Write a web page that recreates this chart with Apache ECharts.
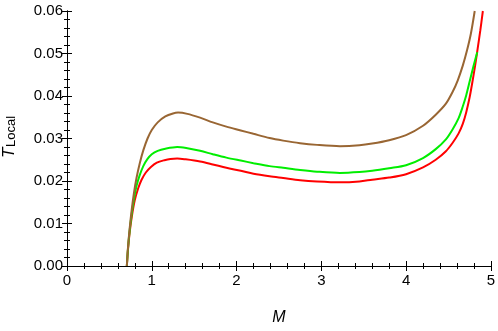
<!DOCTYPE html>
<html>
<head>
<meta charset="utf-8">
<script src="https://cdn.jsdelivr.net/npm/echarts@6/dist/echarts.min.js"></script>
<style>html,body{margin:0;padding:0;background:#fff}#c{width:498px;height:331px}</style>
</head>
<body>
<div id="c"></div>
<script>
// Data (M, T_Local)
const redM = [0.706,0.72,0.74,0.765,0.80,0.84,0.88,0.93,0.99,1.06,1.15,1.22,1.30,1.40,1.57,1.72,1.88,2.05,2.2,2.39,2.55,2.75,2.95,3.22,3.45,3.6,3.8,4.0,4.2,4.35,4.47,4.55,4.62,4.67,4.71,4.75,4.78,4.815,4.845,4.875,4.906];
const redT = [0,0.0040,0.0080,0.0117,0.0155,0.0183,0.0203,0.0220,0.0233,0.0243,0.0249,0.0252,0.0253,0.0251,0.0246,0.0239,0.0231,0.0224,0.0217,0.0211,0.0207,0.0202,0.0199,0.0197,0.0199,0.0203,0.0208,0.0216,0.0232,0.0250,0.0270,0.0290,0.0312,0.0335,0.0362,0.0397,0.0430,0.0472,0.0512,0.0553,0.0600];
const greenM = [0.706,0.72,0.74,0.765,0.79,0.82,0.855,0.90,0.95,1.00,1.07,1.16,1.30,1.42,1.57,1.72,1.88,2.05,2.2,2.39,2.55,2.75,2.95,3.22,3.45,3.6,3.8,4.0,4.2,4.35,4.47,4.55,4.62,4.67,4.71,4.75,4.795,4.84];
const greenT = [0,0.0042,0.0085,0.0125,0.0158,0.0188,0.0212,0.0235,0.0252,0.0263,0.0271,0.0276,0.0280,0.0277,0.0271,0.0263,0.0255,0.0248,0.0242,0.0235,0.0231,0.0226,0.0222,0.0219,0.0221,0.0224,0.0230,0.0237,0.0254,0.0275,0.0298,0.0322,0.0348,0.0376,0.0402,0.0434,0.0470,0.0503];
const brownM = [0.706,0.72,0.74,0.765,0.79,0.82,0.86,0.90,0.95,1.00,1.07,1.16,1.25,1.31,1.42,1.57,1.72,1.88,2.05,2.2,2.39,2.55,2.75,2.95,3.22,3.45,3.6,3.8,4.0,4.2,4.35,4.47,4.55,4.61,4.67,4.72,4.765,4.81];
const brownT = [0,0.0045,0.0090,0.0135,0.0172,0.0207,0.0243,0.0272,0.0300,0.0320,0.0338,0.0352,0.0359,0.0361,0.0358,0.0349,0.0338,0.0328,0.0319,0.0311,0.0301,0.0295,0.0289,0.0285,0.0282,0.0284,0.0288,0.0296,0.0308,0.0330,0.0356,0.0382,0.0410,0.0437,0.0472,0.0508,0.0547,0.0600];
const xTicks = ['0','1','2','3','4','5'];
const yTicks = ['0.00','0.01','0.02','0.03','0.04','0.05','0.06'];

const zip = (a,b) => a.map((v,i)=>[v,b[i]]);
const font = 'Liberation Sans, Arial, sans-serif';
const lineC = '#000';
function axisCommon(){
  return {
    axisLine:{show:true,lineStyle:{color:lineC,width:1}},
    axisTick:{show:true,inside:true,length:5,lineStyle:{color:lineC,width:1}},
    minorTick:{show:true,splitNumber:5,length:3,lineStyle:{color:lineC,width:1}},
    splitLine:{show:false},
    axisLabel:{show:false}
  };
}
const chart = echarts.init(document.getElementById('c'),null,{renderer:'canvas'});
chart.setOption({
  animation:false,
  backgroundColor:'#fff',
  grid:{left:67,right:6,top:11,bottom:58,containLabel:false},
  xAxis:[
    Object.assign(axisCommon(),{type:'value',min:0,max:5,interval:1,position:'bottom',
      axisLabel:{show:true,color:'#000',fontFamily:font,fontSize:15,margin:7,
        formatter:v=>xTicks[Math.round(v)]},
      name:'M',nameLocation:'middle',nameGap:44,
      nameTextStyle:{fontFamily:font,fontSize:16,fontStyle:'italic',color:'#000'}}),
    Object.assign(axisCommon(),{type:'value',min:0,max:5,interval:1,position:'top'})
  ],
  yAxis:[
    Object.assign(axisCommon(),{type:'value',min:0,max:0.06,interval:0.01,position:'left',
      axisLabel:{show:true,color:'#000',fontFamily:font,fontSize:15,margin:4,
        formatter:v=>yTicks[Math.round(v*100)]}}),
    Object.assign(axisCommon(),{type:'value',min:0,max:0.06,interval:0.01,position:'right'})
  ],
  graphic:[{
    type:'group',x:0,y:129,rotation:Math.PI/2,
    children:[
      {type:'text',x:-29,y:9.5,style:{text:'T',font:'italic 17px '+font,fill:'#000',textVerticalAlign:'middle',textAlign:'left'}},
      {type:'text',x:-18,y:11.5,style:{text:'Local',font:'13px '+font,fill:'#000',textVerticalAlign:'middle',textAlign:'left'}}
    ]
  }],
  series:[
    {type:'line',name:'red',data:zip(redM,redT),showSymbol:false,smooth:0.3,clip:true,lineStyle:{color:'#ff0000',width:2},itemStyle:{color:'#ff0000'}},
    {type:'line',name:'green',data:zip(greenM,greenT),showSymbol:false,smooth:0.3,clip:true,lineStyle:{color:'#00ee00',width:2},itemStyle:{color:'#00ee00'}},
    {type:'line',name:'brown',data:zip(brownM,brownT),showSymbol:false,smooth:0.3,clip:true,lineStyle:{color:'#996633',width:2},itemStyle:{color:'#996633'}}
  ]
});
</script>
</body>
</html>
